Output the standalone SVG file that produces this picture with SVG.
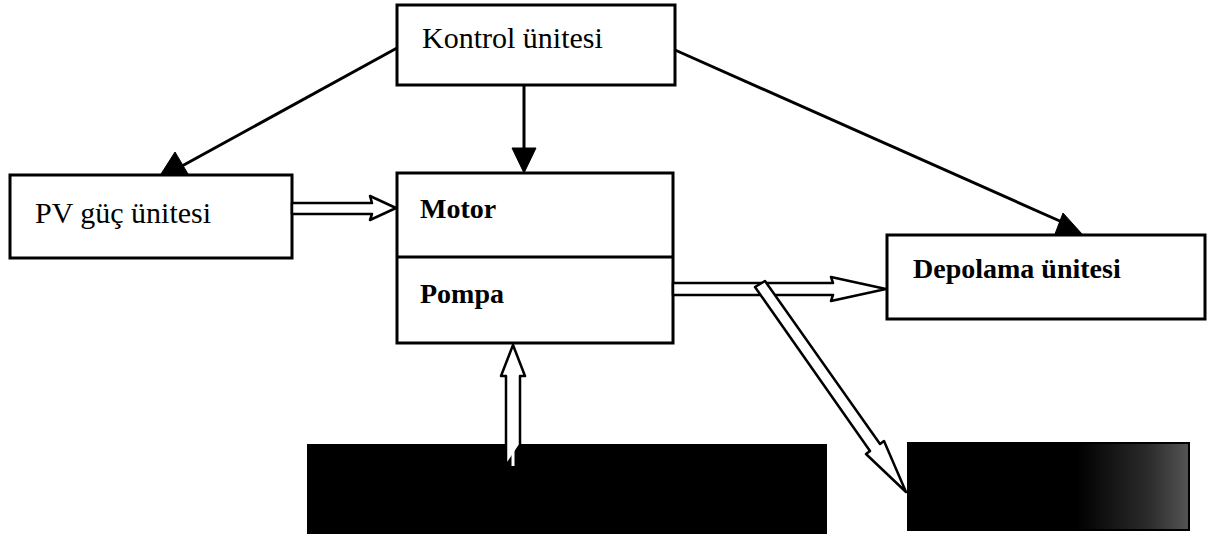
<svg xmlns="http://www.w3.org/2000/svg" width="1214" height="540" viewBox="0 0 1214 540">
<defs>
<style>
.box{fill:#fff;stroke:#000;stroke-width:3}
.dark{fill:#000;stroke:#000;stroke-width:2}
.t{font-family:"Liberation Serif","Times New Roman",serif;font-size:30px;fill:#000}
.b{font-weight:bold;font-size:28px}
.line{stroke:#000;stroke-width:3;fill:none}
.head{fill:#000;stroke:#000;stroke-width:1}
.hollow{fill:#fff;stroke:#000;stroke-width:2.5;stroke-linejoin:round}
</style>
<linearGradient id="g2" x1="0" y1="0" x2="1" y2="0">
<stop offset="0" stop-color="#000"/>
<stop offset="0.6" stop-color="#000"/>
<stop offset="0.85" stop-color="#2a2a2a"/>
<stop offset="1" stop-color="#555"/>
</linearGradient>
</defs>
<rect width="1214" height="540" fill="#fff"/>

<g id="kontrol">
<rect class="box" x="397" y="5" width="278" height="80"/>
<text class="t" x="422" y="48">Kontrol ünitesi</text>
</g>

<g id="pv">
<rect class="box" x="10" y="175" width="282" height="83"/>
<text class="t" x="35" y="223">PV güç ünitesi</text>
</g>

<g id="motor-pompa">
<rect class="box" x="397" y="173" width="276" height="170"/>
<line class="line" x1="397" y1="257" x2="673" y2="257"/>
<text class="t b" x="420" y="218">Motor</text>
<text class="t b" x="420" y="303">Pompa</text>
</g>

<g id="depolama">
<rect class="box" x="887" y="235" width="318" height="84"/>
<text class="t b" x="913" y="278">Depolama ünitesi</text>
</g>

<g id="kaynak">
<rect class="dark" x="308" y="445" width="518" height="88"/>
</g>

<g id="hedef">
<rect x="908" y="443" width="281" height="87" fill="url(#g2)" stroke="#000" stroke-width="2"/>
</g>

<g id="connectors">
<!-- Kontrol -> PV -->
<line class="line" x1="397" y1="48" x2="182" y2="166"/>
<polygon class="head" points="175,152 161,174 188,174"/>
<!-- Kontrol -> Motor -->
<line class="line" x1="524" y1="85" x2="524" y2="150"/>
<polygon class="head" points="512,148 536,148 524,173"/>
<!-- Kontrol -> Depolama -->
<line class="line" x1="675" y1="50" x2="1062" y2="222"/>
<polygon class="head" points="1063,213 1055,234 1082,234"/>
<!-- PV -> Motor hollow -->
<polygon class="hollow" points="292,203 372,203 370,196 396,208 370,220 372,214 292,214"/>
<!-- Pompa -> Depolama hollow -->
<polygon class="hollow" points="673,283 833,283 831,277 886,289 831,301 833,295 673,295"/>
<!-- Pompa -> lower right hollow diagonal -->
<polygon class="hollow" points="765,281 880,444 884,441 906,492 866,454 870,451 755,287"/>
<!-- source -> Pompa hollow up -->
<polygon class="hollow" points="506,466 506,376 501,376 513,345 525,376 520,376 520,445 520,445"/>
<line x1="513" y1="378" x2="513" y2="466" stroke="#fff" stroke-width="3"/>
</g>
</svg>
